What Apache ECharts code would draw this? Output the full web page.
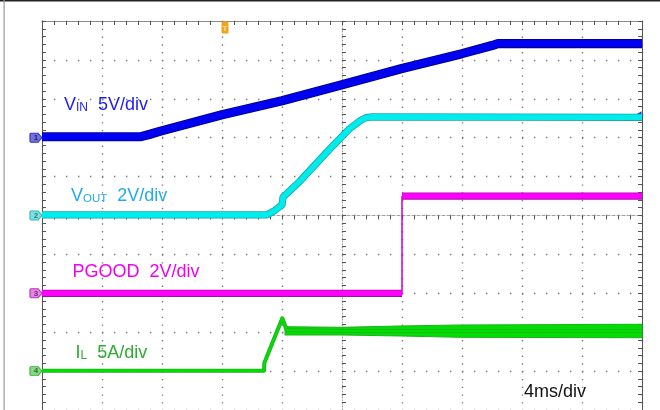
<!DOCTYPE html>
<html><head><meta charset="utf-8">
<script src="https://cdn.jsdelivr.net/npm/echarts@6/dist/echarts.min.js"></script>
<style>html,body{margin:0;padding:0;background:#fff}#c{width:660px;height:410px}</style>
</head><body><div id="c"></div>
<script>
// time in ms (4 ms/div, 10 div)
const timeMin = 0, timeMax = 40, timeStep = 4;
// VIN (V), 5 V/div, ground at div 7
const vinT = [0, 6.6, 7.2, 7.9, 12, 16, 20, 24, 28, 30, 30.4, 40];
const vinV = [0.12, 0.13, 0.45, 0.85, 2.95, 4.75, 6.8, 8.9, 10.8, 11.85, 12.1, 12.1];
// VOUT (V), 2 V/div, ground at div 5
const voutT = [0, 15.0, 15.5, 16.0, 16.07, 17.2, 19.2, 20.5, 21.2, 21.6, 22.0, 40];
const voutV = [0.03, 0.03, 0.25, 0.54, 0.95, 1.77, 3.43, 4.46, 4.87, 5.03, 5.07, 5.05];
// PGOOD (V), 2 V/div, ground at div 3
const pgT = [0, 24.0, 24.0, 40];
const pgV = [0, 0, 5.0, 5.0];
// IL (A), 5 A/div, zero at div 1
const ilT = [0, 14.8, 14.82, 16.02, 16.31, 20, 40];
const ilA = [0.05, 0.05, 1.04, 6.79, 5.28, 5.15, 5.15];
const ilBandT = [16.2, 20, 23.9, 27.9, 40];
const ilBandLo = [4.64, 4.64, 4.51, 4.34, 4.29];
const ilBandHi = [5.71, 5.63, 5.80, 5.93, 6.02];
// channel ground markers / trigger
const chLabels = ['1', '2', '3', '4'];
const trigT = 12.2;

const zip = (a, b) => a.map((v, i) => [v, b[i]]);
const FONT = 'Liberation Sans, Arial, Helvetica, sans-serif';
const dotCol = '#7a7a7a';
const tickCol = '#555555';

function gridX(extra) {
  return Object.assign({type: 'value', min: timeMin, max: timeMax, interval: timeStep,
    axisLabel: {show: false}, splitLine: {show: false}}, extra);
}
function gridY(extra) {
  return Object.assign({type: 'value', min: 0, max: 10, interval: 1,
    axisLabel: {show: false}, splitLine: {show: false}}, extra);
}
const ticks = () => ({show: true, inside: true, length: 4, lineStyle: {color: tickCol, width: 1}});
const minor = () => ({show: true, splitNumber: 5, length: 4, lineStyle: {color: tickCol, width: 1}});

const tagPath = 'path://M1,0 L8,0 L12,4.5 L8,9 L1,9 Q0,9 0,8 L0,1 Q0,0 1,0 Z';
function tag(y, txt, fill, border, tc) {
  return {coord: [timeMin, y], symbol: tagPath, symbolSize: [12, 9], symbolOffset: [-6, 0],
    itemStyle: {color: fill, borderColor: border, borderWidth: 1},
    label: {show: true, formatter: txt, position: 'inside', fontSize: 8, fontWeight: 'bold', color: tc, fontFamily: FONT}};
}
function trace(name, yIdx, data, w, color, edge, z, extra) {
  return [
    {type: 'line', name: name + ' edge', xAxisIndex: 0, yAxisIndex: yIdx, symbol: 'none', data: data, silent: true,
      lineStyle: {width: w + 1.6, color: edge, join: 'round'}, z: z},
    Object.assign({type: 'line', name: name, xAxisIndex: 0, yAxisIndex: yIdx, symbol: 'none', data: data,
      lineStyle: {width: w, color: color, join: 'round'}, z: z + 0.5}, extra || {})
  ];
}

const chart = echarts.init(document.getElementById('c'), null, {renderer: 'canvas'});
chart.setOption({
  animation: false,
  backgroundColor: '#ffffff',
  grid: {left: 42, top: 21, width: 600, height: 389, containLabel: false},
  xAxis: [
    gridX({position: 'bottom', axisLine: {show: false, onZero: false}, axisTick: {show: false},
      splitLine: {show: true, lineStyle: {color: dotCol, width: 1.4, type: [1.4, 6.38]}}}),
    gridX({position: 'top', axisLine: {show: true, onZero: false, lineStyle: {color: '#8a8a8a', width: 1}},
      axisTick: ticks(), minorTick: minor()}),
    gridX({position: 'top', offset: -194.5, axisLine: {show: true, onZero: false, lineStyle: {color: '#a0a0a0', width: 1, type: [3, 2]}},
      axisTick: ticks(), minorTick: minor()})
  ],
  yAxis: [
    gridY({position: 'left', axisLine: {show: true, onZero: false, lineStyle: {color: '#555', width: 1}},
      axisTick: ticks(), minorTick: minor(),
      splitLine: {show: true, lineStyle: {color: dotCol, width: 1.4, type: [1.4, 10.6]}}}),
    gridY({position: 'left', offset: -300, axisLine: {show: true, onZero: false, lineStyle: {color: '#9a9a9a', width: 1, type: [1, 2]}},
      axisTick: ticks(), minorTick: minor()}),
    gridY({position: 'right', axisLine: {show: true, onZero: false, lineStyle: {color: '#555', width: 1}},
      axisTick: ticks(), minorTick: minor()}),
    {type: 'value', min: -35, max: 15, show: false},
    {type: 'value', min: -10, max: 10, show: false},
    {type: 'value', min: -6, max: 14, show: false},
    {type: 'value', min: -5, max: 45, show: false}
  ],
  series: [].concat(
    [{type: 'custom', name: 'IL band', xAxisIndex: 0, yAxisIndex: 6, z: 3,
      data: ilBandT.map((t, i) => [t, ilBandLo[i], ilBandHi[i]]),
      encode: {x: 0, y: [1, 2]},
      renderItem: function (params, api) {
        if (params.dataIndex !== 0) return null;
        const top = ilBandT.map((t, i) => api.coord([t, ilBandHi[i]]));
        const bot = ilBandT.map((t, i) => api.coord([t, ilBandLo[i]])).reverse();
        return {type: 'polygon', shape: {points: top.concat(bot)},
          style: {fill: '#00e000', stroke: '#1fb01f', lineWidth: 1}};
      }}],
    trace('IL', 6, zip(ilT, ilA), 2.4, '#00e000', '#28a828', 4,
      {markPoint: {animation: false, data: [tag(0, chLabels[3], '#86d886', '#3cb43c', '#2a7a2a')]}}),
    trace('PGOOD low', 5, zip(pgT.slice(0, 2), pgV.slice(0, 2)), 5.6, '#ff00ff', '#a010a0', 5,
      {markPoint: {animation: false, data: [tag(0, chLabels[2], '#e088e0', '#c030c0', '#8a208a')]}}),
    [{type: 'line', name: 'PGOOD edge', xAxisIndex: 0, yAxisIndex: 5, symbol: 'none',
      data: zip(pgT.slice(1, 3), pgV.slice(1, 3)), lineStyle: {width: 1.5, color: '#c800c8'}, z: 5}],
    trace('PGOOD high', 5, zip(pgT.slice(2, 4), pgV.slice(2, 4)), 5.6, '#ff00ff', '#a010a0', 5),
    trace('VOUT', 4, zip(voutT, voutV), 5.6, '#00ecec', '#16a6a6', 6,
      {markPoint: {animation: false, data: [
        tag(0, chLabels[1], '#80e0e0', '#30b8b8', '#208080'),
        {coord: [timeMax, 5.2], symbol: 'triangle', symbolRotate: 90, symbolSize: [6, 5], symbolOffset: [-3, 0],
          itemStyle: {color: '#2030e0'}, label: {show: false}}
      ]}}),
    trace('VIN', 3, zip(vinT, vinV), 7.6, '#0000f0', '#00007c', 7,
      {markPoint: {animation: false, data: [
        tag(0, chLabels[0], '#7474d8', '#3030d0', '#202080'),
        {coord: [trigT, 15], symbol: 'path://M0,0 L7,0 L7,1.5 L6,1.5 Q7,1.5 7,3 L7,11 Q7,12 6,12 L1,12 Q0,12 0,11 L0,3 Q0,1.5 1,1.5 L0,1.5 Z',
          symbolSize: [7, 12], symbolOffset: [0, 6.5], itemStyle: {color: '#f3a21c'},
          label: {show: true, formatter: 'T', position: 'inside', offset: [0, 1], fontSize: 8, fontWeight: 'bold', color: '#ffe6a8', fontFamily: FONT}}
      ]}})
  ),
  graphic: [
    {type: 'rect', silent: true, shape: {x: 0, y: 0, width: 660, height: 1.5}, style: {fill: '#222'}},
    {type: 'rect', silent: true, shape: {x: 3.5, y: 0, width: 1.2, height: 410}, style: {fill: '#999'}},
    {type: 'text', left: 64, top: 95.8, style: {text: '{a|V}{s|IN}{a|  5V/div}', font: '18px ' + FONT,
      rich: {a: {fontSize: 18, fontFamily: FONT, fill: '#1c1cf0', verticalAlign: 'bottom'},
             s: {fontSize: 12, fontFamily: FONT, fill: '#1c1cf0', verticalAlign: 'bottom'}}}},
    {type: 'text', left: 71, top: 187, style: {text: '{a|V}{s|OUT}{a|  2V/div}', font: '18px ' + FONT,
      rich: {a: {fontSize: 18, fontFamily: FONT, fill: '#22aaee', verticalAlign: 'bottom'},
             s: {fontSize: 11.5, fontFamily: FONT, fill: '#22aaee', verticalAlign: 'bottom'}}}},
    {type: 'text', left: 72.5, top: 263.5, style: {text: 'PGOOD  2V/div', font: '18px ' + FONT, fill: '#f000f0'}},
    {type: 'text', left: 75.5, top: 344, style: {text: '{a|I}{s|L}{a|  5A/div}', font: '18px ' + FONT,
      rich: {a: {fontSize: 18, fontFamily: FONT, fill: '#30aa30', verticalAlign: 'bottom'},
             s: {fontSize: 12, fontFamily: FONT, fill: '#30aa30', verticalAlign: 'bottom'}}}},
    {type: 'text', left: 524, top: 383.5, style: {text: '4ms/div', font: '18px ' + FONT, fill: '#111'}}
  ]
});
</script></body></html>
